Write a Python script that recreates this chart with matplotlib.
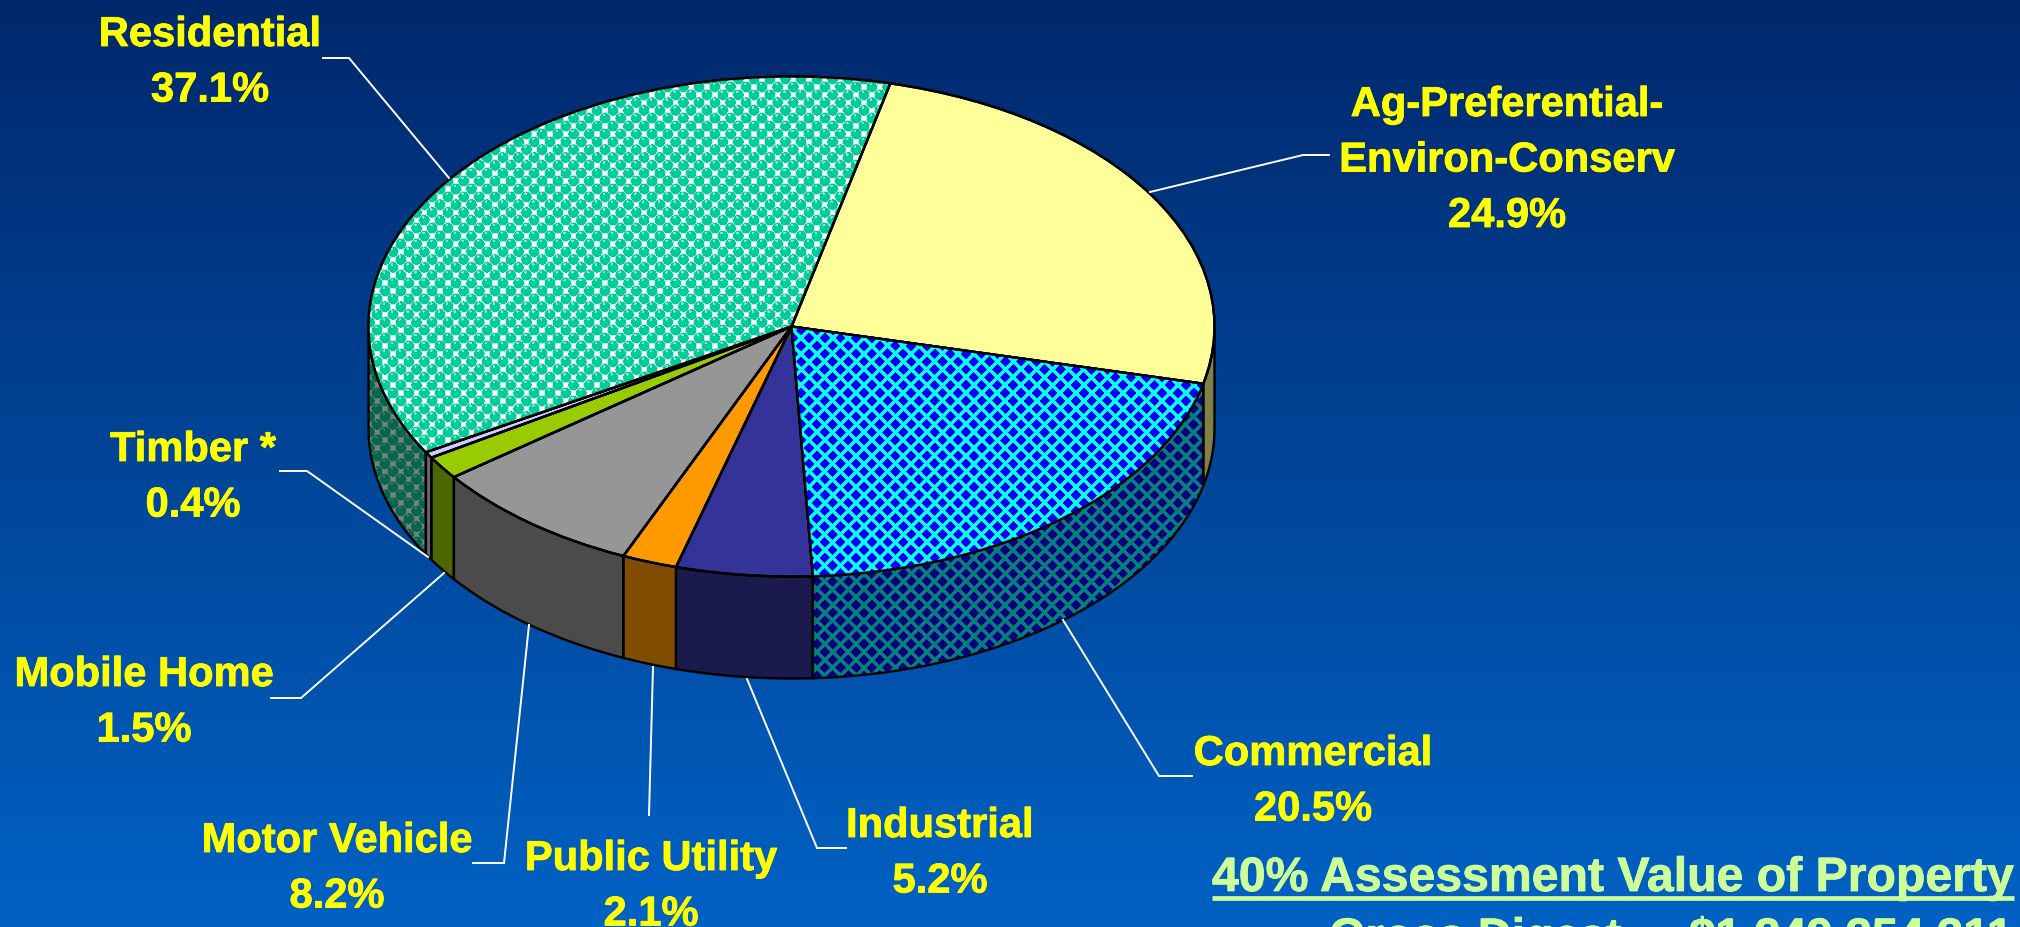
import numpy as np
import matplotlib
matplotlib.use("Agg")
import matplotlib.pyplot as plt
import matplotlib.patheffects as pe
from matplotlib.patches import Polygon, Wedge

W, H = 2020, 927

# ---- data ----
categories = ["Ag-Preferential-\nEnviron-Conserv", "Commercial", "Industrial", "Public Utility",
              "Motor Vehicle", "Mobile Home", "Timber *", "Residential"]
shares = [24.9, 20.5, 5.2, 2.1, 8.2, 1.5, 0.4, 37.1]
top_colors = ["#FFFF99", "#00FFFF", "#333399", "#FF9900", "#969696", "#99CC00", "#CCCCFF", "#FFFFFF"]
title_line = "40% Assessment Value of Property"
digest_line = "Gross Digest  -  $1,249,354,311"

# label anchor (centre x, first baseline y) in pixels
label_pos = [(1507, 116), (1313, 765), (940, 837), (651, 870), (337, 852), (144, 686), (193, 461), (210, 46)]
leaders = [
    [(1329, 155), (1303, 155), (1150, 192)],
    [(1192, 776), (1159, 776), (1063, 620)],
    [(846, 848), (817, 848), (747, 679)],
    [(649, 815), (653, 667)],
    [(473, 863), (504, 863), (529, 625)],
    [(271, 698), (301, 698), (444, 573)],
    [(280, 471), (307, 471), (428, 557)],
    [(323, 58), (349, 58), (449, 178)],
]

# ---- geometry (pixels) ----
CX, CY, RX, RY, DEPTH = 791.5, 326.5, 423, 250, 102

fig = plt.figure(figsize=(W / 100, H / 100), dpi=100)
ax = fig.add_axes([0, 0, 1, 1])
FONT = "Liberation Sans"
xl = ((0 - CX) / RX, (W - CX) / RX)
yl = ((CY - H) / RY, CY / RY)
d = DEPTH / RY


def to_x(px):
    return (px - CX) / RX


def to_y(py):
    return (CY - py) / RY


wedges, _ = ax.pie(shares, colors=top_colors, startangle=76.5, counterclock=False, radius=1,
                   wedgeprops=dict(edgecolor="black", linewidth=1.7))
ax.set_aspect("auto")
ax.axis("off")

# ---- background gradient ----
t = np.linspace(0, 1, H)[:, None]
top_c, bot_c = np.array([0, 40, 108]) / 255, np.array([0, 98, 196]) / 255
bg = (top_c[None, None, :] * (1 - t[:, :, None]) + bot_c[None, None, :] * t[:, :, None])
ax.imshow(bg, extent=(xl[0], xl[1], yl[0], yl[1]), aspect="auto", zorder=-10, origin="upper")

# ---- textures ----
yy, xx = np.mgrid[0:H, 0:W]


def diamond_tex():
    p = 15.7
    fx = (xx / p) % 1 - 0.5
    fy = (yy / p) % 1 - 0.5
    m1 = np.abs(fx) + np.abs(fy) < 0.34
    fx2 = ((xx + p / 2) / p) % 1 - 0.5
    fy2 = ((yy + p / 2) / p) % 1 - 0.5
    m2 = np.abs(fx2) + np.abs(fy2) < 0.34
    img = np.ones((H, W, 3)) * np.array([0, 1, 1])
    img[m1 | m2] = [0, 0, 1]
    return img


def ball_tex():
    p = 15.7
    img = np.ones((H, W, 3))
    teal = np.array([0, 204, 153]) / 255
    for ox, oy in ((0, 0), (p / 2, p / 2)):
        fx = ((xx + ox) % p) - p / 2
        fy = ((yy + oy) % p) - p / 2
        r = np.hypot(fx, fy)
        img[r < 6.0] = [0.7, 0.94, 0.87]
    for ox, oy in ((0, 0), (p / 2, p / 2)):
        fx = ((xx + ox) % p) - p / 2
        fy = ((yy + oy) % p) - p / 2
        r = np.hypot(fx, fy)
        img[r < 5.2] = teal
        img[(np.hypot(fx + 1, (fy + 3.0)) < 1.3)] = [0.55, 0.9, 0.8]
    return img


tex = {1: diamond_tex(), 7: ball_tex()}
extent = (xl[0], xl[1], yl[0], yl[1])

# ---- side walls ----
for i, w in enumerate(wedges):
    a0 = max(w.theta1, -180)
    a1 = min(w.theta2, 0)
    if a1 <= a0:
        continue
    th = np.radians(np.linspace(a0, a1, 200))
    xs = np.cos(th)
    ys = np.sin(th)
    pts = np.r_[np.c_[xs, ys], np.c_[xs[::-1], ys[::-1] - d]]
    fc = np.array(matplotlib.colors.to_rgb(top_colors[i])) * 0.5
    poly = Polygon(pts, closed=True, facecolor=fc, edgecolor="none", zorder=0.5)
    ax.add_patch(poly)
    if i in tex:
        im = ax.imshow(tex[i] * 0.5, extent=extent, aspect="auto", zorder=0.6, origin="upper",
                       interpolation="nearest")
        im.set_clip_path(poly)
    ax.add_patch(Polygon(pts, closed=True, fill=False, edgecolor="black", linewidth=1.7, zorder=0.7))

# ---- textured tops ----
for i, im_arr in tex.items():
    im = ax.imshow(im_arr, extent=extent, aspect="auto", zorder=1.2, origin="upper", interpolation="nearest")
    im.set_clip_path(wedges[i])
for w in wedges:
    ax.add_patch(Wedge((0, 0), 1, w.theta1, w.theta2, fill=False, edgecolor="black", linewidth=1.7, zorder=1.4))

ax.set_xlim(*xl)
ax.set_ylim(*yl)

# ---- leader lines ----
for seg in leaders:
    ax.plot([to_x(p[0]) for p in seg], [to_y(p[1]) for p in seg], color="white", lw=1.4, zorder=3,
            solid_joinstyle="miter")

# ---- labels ----
LINE = 55.5
for name, v, (x, y) in zip(categories, shares, label_pos):
    lines = name.split("\n") + [f"{v}%"]
    for k, s in enumerate(lines):
        ax.text(to_x(x), to_y(y + k * LINE), s, ha="center", va="baseline", color="#FFFF00",
                fontsize=30, fontweight="bold", family=FONT, zorder=5,
                path_effects=[pe.withStroke(linewidth=0.6, foreground="#FFFF00")])

# ---- bottom text ----
stroke = [pe.withStroke(linewidth=0.6, foreground="#CCFF99")]
ax.text(to_x(1212), to_y(891), title_line, ha="left", va="baseline", color="#CCFF99",
        fontsize=34.7, fontweight="bold", family=FONT, zorder=5, path_effects=stroke)
ax.plot([to_x(1212), to_x(2014)], [to_y(898), to_y(898)], color="#CCFF99", lw=3.4, zorder=5,
        solid_capstyle="butt")
ax.text(to_x(1671), to_y(951), digest_line, ha="center", va="baseline", color="#CCFF99",
        fontsize=33.8, fontweight="bold", family=FONT, zorder=5, path_effects=stroke)

fig.savefig("out.png", dpi=100)
